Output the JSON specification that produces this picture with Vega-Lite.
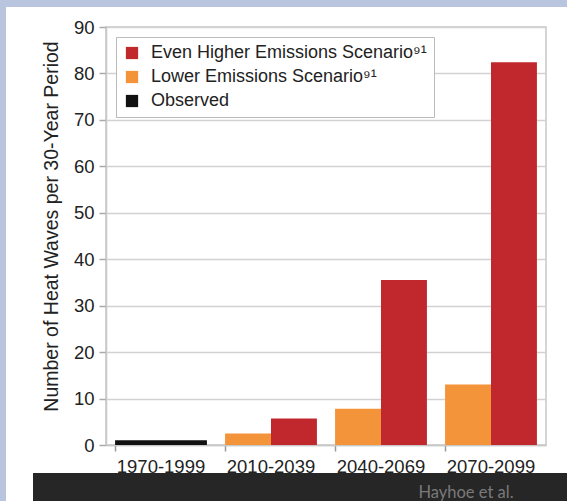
{
  "$schema": "https://vega.github.io/schema/vega-lite/v6.json",
  "background": "white",
  "padding": 0,
  "config": {
    "view": {"stroke": null},
    "font": "Liberation Sans"
  },
  "columns": 5,
  "bounds": "flush",
  "align": "each",
  "spacing": 0,
  "resolve": {"scale": {"color": "independent"}, "legend": {"color": "independent"}},
  "concat": [
    {"width": 6, "height": 7, "view": {"fill": "#b9c4de", "stroke": null}, "data": {"values": []}, "mark": "point"},
    {"width": 27, "height": 7, "view": {"fill": "#b9c4de", "stroke": null}, "data": {"values": []}, "mark": "point"},
    {"width": 73, "height": 7, "view": {"fill": "#b9c4de", "stroke": null}, "data": {"values": []}, "mark": "point"},
    {"width": 440, "height": 7, "view": {"fill": "#b9c4de", "stroke": null}, "data": {"values": []}, "mark": "point"},
    {"width": 21, "height": 7, "view": {"fill": "#b9c4de", "stroke": null}, "data": {"values": []}, "mark": "point"},

    {"width": 6, "height": 20, "view": {"fill": "#b9c4de", "stroke": null}, "data": {"values": []}, "mark": "point"},
    {"width": 27, "height": 20, "data": {"values": []}, "mark": "point"},
    {"width": 73, "height": 20, "data": {"values": []}, "mark": "point"},
    {"width": 440, "height": 20, "data": {"values": []}, "mark": "point"},
    {"width": 21, "height": 20, "data": {"values": []}, "mark": "point"},

    {"width": 6, "height": 418, "view": {"fill": "#b9c4de", "stroke": null}, "data": {"values": []}, "mark": "point"},
    {"width": 27, "height": 418, "data": {"values": []}, "mark": "point"},
    {"width": 73, "height": 418, "data": {"values": []}, "mark": "point"},
    {
      "width": 440,
      "height": 418,
      "view": {"stroke": "#c8c8c8", "strokeWidth": 1.5},
      "data": {
        "values": [
          {"period": "1970-1999", "series": "Observed", "value": 1.0},
          {"period": "2010-2039", "series": "Lower Emissions Scenario⁹¹", "value": 2.5},
          {"period": "2010-2039", "series": "Even Higher Emissions Scenario⁹¹", "value": 5.7},
          {"period": "2040-2069", "series": "Lower Emissions Scenario⁹¹", "value": 7.8},
          {"period": "2040-2069", "series": "Even Higher Emissions Scenario⁹¹", "value": 35.5},
          {"period": "2070-2099", "series": "Lower Emissions Scenario⁹¹", "value": 13.0},
          {"period": "2070-2099", "series": "Even Higher Emissions Scenario⁹¹", "value": 82.4}
        ]
      },
      "encoding": {
        "x": {
          "field": "period",
          "type": "nominal",
          "scale": {"domain": ["1970-1999", "2010-2039", "2040-2069", "2070-2099"], "paddingInner": 0.165, "paddingOuter": 0.0825},
          "axis": {
            "title": null,
            "labelAngle": 0,
            "labelFontSize": 18.5,
            "labelColor": "#222222",
            "labelPadding": 6,
            "bandPosition": 0,
            "tickSize": 6,
            "tickColor": "#999999",
            "tickWidth": 1.5,
            "domainColor": "#c8c8c8",
            "domainWidth": 1.5
          }
        },
        "y": {
          "field": "value",
          "type": "quantitative",
          "scale": {"domain": [0, 90], "nice": false},
          "axis": {
            "title": "Number of Heat Waves per 30-Year Period",
            "titleFontSize": 19.5,
            "titleFontWeight": "normal",
            "titleColor": "#222222",
            "titlePadding": 12,
            "titleY": 199,
            "values": [0, 10, 20, 30, 40, 50, 60, 70, 80, 90],
            "labelFontSize": 18.5,
            "labelColor": "#222222",
            "labelPadding": 5,
            "tickSize": 7,
            "tickColor": "#aaaaaa",
            "tickWidth": 1.5,
            "domainColor": "#c8c8c8",
            "domainWidth": 1.5,
            "gridColor": "#d2d2d2",
            "gridWidth": 1.5
          }
        },
        "color": {
          "field": "series",
          "type": "nominal",
          "scale": {
            "domain": ["Even Higher Emissions Scenario⁹¹", "Lower Emissions Scenario⁹¹", "Observed"],
            "range": ["#c1282e", "#f3943a", "#111111"]
          },
          "legend": {
            "title": null,
            "orient": "top-left",
            "offset": 10,
            "strokeColor": "#bbbbbb",
            "fillColor": "white",
            "padding": 7,
            "symbolType": "square",
            "symbolSize": 150,
            "symbolStrokeWidth": 0,
            "symbolOpacity": 1,
            "labelFontSize": 18,
            "labelColor": "#222222",
            "labelLimit": 400,
            "rowPadding": 6,
            "labelOffset": 10
          }
        }
      },
      "layer": [
        {
          "transform": [{"filter": "datum.series === 'Observed'"}],
          "mark": {"type": "bar", "opacity": 1}
        },
        {
          "transform": [{"filter": "datum.series !== 'Observed'"}],
          "mark": {"type": "bar", "opacity": 1},
          "encoding": {
            "xOffset": {
              "field": "series",
              "type": "nominal",
              "sort": ["Lower Emissions Scenario⁹¹", "Even Higher Emissions Scenario⁹¹"],
              "scale": {"paddingInner": 0, "paddingOuter": 0}
            }
          }
        }
      ]
    },
    {"width": 21, "height": 418, "data": {"values": []}, "mark": "point"},

    {"width": 6, "height": 28, "view": {"fill": "#b9c4de", "stroke": null}, "data": {"values": []}, "mark": "point"},
    {"width": 27, "height": 28, "data": {"values": []}, "mark": "point"},
    {"width": 73, "height": 28, "data": {"values": []}, "mark": "point"},
    {"width": 440, "height": 28, "data": {"values": []}, "mark": "point"},
    {"width": 21, "height": 28, "data": {"values": []}, "mark": "point"},

    {"width": 6, "height": 28, "view": {"fill": "#b9c4de", "stroke": null}, "data": {"values": []}, "mark": "point"},
    {"width": 27, "height": 28, "data": {"values": []}, "mark": "point"},
    {"width": 73, "height": 28, "view": {"fill": "#262626", "stroke": null}, "data": {"values": []}, "mark": "point"},
    {
      "width": 440,
      "height": 28,
      "view": {"fill": "#262626", "stroke": null},
      "data": {"values": [{"label": "Hayhoe et al."}]},
      "mark": {"type": "text", "align": "left", "baseline": "middle", "font": "Lato", "fontSize": 16.5, "color": "#7a7a7a"},
      "encoding": {
        "text": {"field": "label"},
        "x": {"datum": 0.71, "type": "quantitative", "scale": {"domain": [0, 1]}, "axis": null},
        "y": {"datum": 0.3, "type": "quantitative", "scale": {"domain": [0, 1]}, "axis": null}
      }
    },
    {"width": 21, "height": 28, "view": {"fill": "#262626", "stroke": null}, "data": {"values": []}, "mark": "point"}
  ]
}
